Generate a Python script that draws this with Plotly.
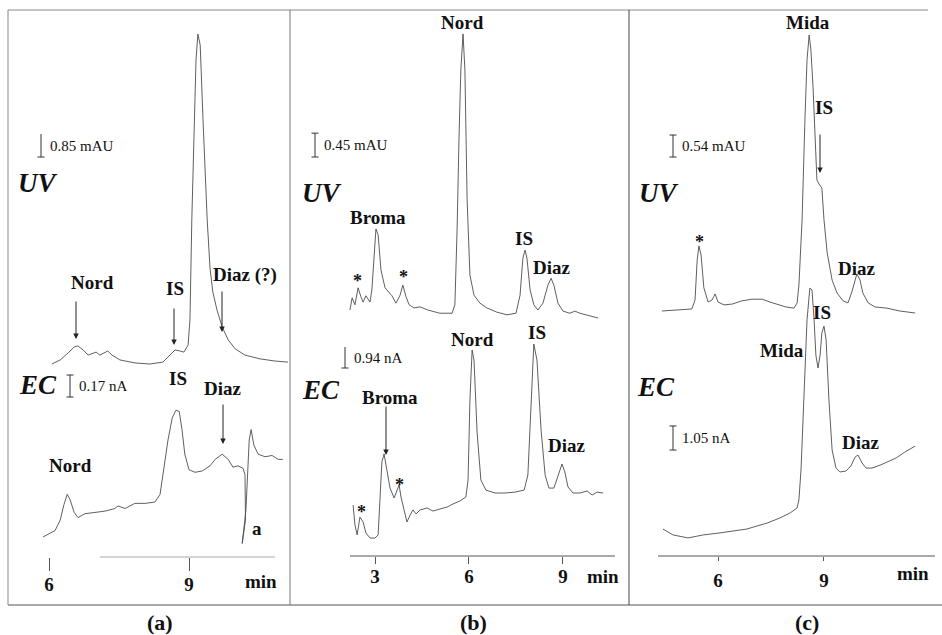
import plotly.graph_objects as go

W, H = 942, 635
FONT = "Liberation Serif"
LINE = "#4d4d4d"

# ---------------- data ----------------
# (a) UV, mAU vs min
uv_a_t = [6.06, 6.24, 6.41, 6.54, 6.62, 6.73, 6.84, 6.92, 7.01, 7.09, 7.18, 7.26, 7.35, 7.52, 7.84,
          8.16, 8.44, 8.59, 8.70, 8.81, 8.89, 8.98, 9.02, 9.06, 9.11, 9.15, 9.19, 9.24, 9.30, 9.39,
          9.45, 9.51, 9.60, 9.71, 9.84, 9.99, 10.20, 10.52, 10.84, 11.12]
uv_a_mAU = [0.00, 0.15, 0.41, 0.63, 0.67, 0.52, 0.33, 0.37, 0.44, 0.33, 0.41, 0.48, 0.33, 0.15, 0.04,
            0.00, 0.07, 0.33, 0.52, 0.48, 0.44, 0.70, 1.63, 5.33, 9.04, 11.26, 12.22, 11.81, 9.04, 5.33,
            3.56, 2.67, 2.00, 1.37, 0.89, 0.56, 0.33, 0.19, 0.11, 0.07]
# (a) EC, nA vs min
ec_a_t = [5.87, 5.98, 6.13, 6.24, 6.32, 6.39, 6.45, 6.54, 6.62, 6.77, 6.99, 7.20, 7.41, 7.48, 7.63,
          7.84, 8.06, 8.27, 8.38, 8.46, 8.55, 8.64, 8.72, 8.79, 8.85, 8.91, 9.00, 9.13, 9.28, 9.45,
          9.56, 9.71, 9.84, 9.94, 10.05, 10.16, 10.20, 10.21, 10.14, 10.22, 10.29, 10.33, 10.39,
          10.48, 10.63, 10.78, 10.91, 11.01]
ec_a_nA = [0.00, 0.02, 0.05, 0.13, 0.25, 0.33, 0.29, 0.19, 0.15, 0.18, 0.19, 0.20, 0.22, 0.24, 0.22,
           0.26, 0.26, 0.27, 0.33, 0.52, 0.75, 0.92, 0.98, 0.97, 0.83, 0.64, 0.52, 0.50, 0.51, 0.55,
           0.60, 0.64, 0.60, 0.54, 0.55, 0.53, 0.48, 0.13, -0.05, 0.21, 0.75, 0.83, 0.71,
           0.64, 0.62, 0.63, 0.60, 0.60]

# (b) UV
uv_b_t = [2.20, 2.27, 2.36, 2.46, 2.55, 2.62, 2.71, 2.84, 2.90, 2.97, 3.03, 3.10, 3.19, 3.32, 3.45,
          3.54, 3.67, 3.80, 3.89, 3.99, 4.09, 4.24, 4.44, 4.69, 5.07, 5.46, 5.55, 5.62, 5.68, 5.74,
          5.81, 5.87, 5.94, 6.03, 6.16, 6.35, 6.57, 6.89, 7.21, 7.50, 7.63, 7.72, 7.79, 7.85, 7.95,
          8.07, 8.20, 8.36, 8.52, 8.62, 8.71, 8.84, 9.00, 9.22, 9.38, 9.54, 9.86, 10.12]
uv_b_mAU = [0.15, 0.38, 0.25, 0.57, 0.40, 0.30, 0.42, 0.30, 0.53, 1.28, 1.68, 1.57, 0.91, 0.57, 0.49,
            0.42, 0.28, 0.43, 0.62, 0.40, 0.25, 0.19, 0.21, 0.15, 0.09, 0.09, 0.25, 1.66, 3.36, 4.68,
            5.36, 4.68, 2.23, 0.81, 0.43, 0.28, 0.19, 0.11, 0.06, 0.09, 0.43, 1.13, 1.28, 1.13, 0.53,
            0.25, 0.15, 0.28, 0.62, 0.75, 0.62, 0.28, 0.13, 0.09, 0.13, 0.09, 0.04, 0.00]
# (b) EC
ec_b_t = [2.30, 2.36, 2.43, 2.52, 2.62, 2.71, 2.84, 3.00, 3.10, 3.16, 3.22, 3.29, 3.38, 3.48, 3.61,
          3.70, 3.77, 3.83, 3.93, 4.02, 4.12, 4.21, 4.31, 4.44, 4.66, 4.85, 5.07, 5.30, 5.49, 5.71,
          5.90, 5.97, 6.03, 6.10, 6.16, 6.26, 6.38, 6.54, 6.83, 7.15, 7.47, 7.76, 7.88, 7.98, 8.07,
          8.17, 8.30, 8.43, 8.55, 8.71, 8.84, 8.97, 9.06, 9.16, 9.32, 9.54, 9.77, 9.93, 10.09, 10.28]
ec_b_nA = [-0.54, -1.43, -1.88, -1.08, -1.30, -1.79, -2.02, -2.02, -1.88, -0.31, 1.39, 1.75, 1.03, 0.22, -0.22,
           0.13, 0.36, -0.18, -0.85, -1.30, -0.99, -0.76, -0.94, -0.76, -0.67, -0.81, -0.72, -0.63, -0.49, -0.36,
           -0.18, 0.58, 4.17, 6.41, 5.96, 2.69, 0.58, 0.13, 0.00, 0.00, 0.04, 0.13, 0.81, 4.17, 6.68,
           5.96, 2.83, 0.81, 0.22, 0.22, 0.81, 1.30, 0.94, 0.27, 0.00, 0.00, 0.09, -0.09, 0.04, 0.00]

# (c) UV
uv_c_t = [4.41, 4.92, 5.26, 5.35, 5.41, 5.46, 5.52, 5.60, 5.72, 5.83, 5.92, 6.00, 6.17, 6.40, 6.68,
          6.96, 7.25, 7.47, 7.70, 7.92, 8.15, 8.24, 8.29, 8.38, 8.46, 8.52, 8.58, 8.63, 8.69, 8.75,
          8.80, 8.86, 8.94, 9.00, 9.09, 9.23, 9.37, 9.54, 9.68, 9.79, 9.93, 10.02, 10.10, 10.25, 10.44,
          10.78, 11.15, 11.58]
uv_c_mAU = [0.00, 0.02, 0.05, 0.27, 1.25, 1.60, 1.38, 0.57, 0.22, 0.27, 0.42, 0.22, 0.15, 0.17, 0.25,
            0.29, 0.29, 0.22, 0.15, 0.10, 0.07, 0.20, 0.64, 2.24, 4.69, 6.17, 6.78, 6.41, 5.50, 3.96,
            3.22, 3.12, 3.02, 2.24, 1.43, 0.76, 0.44, 0.25, 0.20, 0.47, 0.91, 0.76, 0.44, 0.20, 0.10,
            0.07, 0.00, -0.05]
# (c) EC
ec_c_t = [4.44, 4.73, 5.15, 5.58, 6.06, 6.48, 6.82, 7.10, 7.39, 7.75, 8.04, 8.24, 8.29, 8.35, 8.43,
          8.52, 8.60, 8.66, 8.72, 8.77, 8.83, 8.89, 8.94, 9.00, 9.06, 9.14, 9.23, 9.34, 9.45, 9.62,
          9.76, 9.88, 9.96, 10.08, 10.19, 10.36, 10.59, 10.81, 11.04, 11.29, 11.58]
ec_c_nA = [0.00, -0.26, -0.39, -0.26, -0.17, -0.09, 0.00, 0.13, 0.26, 0.48, 0.70, 0.92, 1.27, 2.58, 5.63,
           9.13, 10.52, 10.44, 9.13, 7.60, 7.03, 7.60, 8.56, 8.86, 8.25, 5.63, 3.45, 2.66, 2.49, 2.53,
           2.75, 3.14, 3.23, 2.88, 2.66, 2.66, 2.79, 2.93, 3.10, 3.36, 3.62]

tick_vals_a = [6, 9]
tick_vals_b = [3, 6, 9]
tick_vals_c = [6, 9]

# ---------------- layout geometry (pixels) ----------------
panels = [
    dict(name="a", xa="x", dom=(8, 290), x0=49, t0=6, ppm=46.67, axis_y=557, ticklen=13, standoff=-3,
         ticks=tick_vals_a),
    dict(name="b", xa="x2", dom=(290, 629), x0=375, t0=3, ppm=31.33, axis_y=556, ticklen=7, standoff=-4,
         ticks=tick_vals_b),
    dict(name="c", xa="x3", dom=(629, 942), x0=718, t0=6, ppm=35.33, axis_y=556, ticklen=4, standoff=3,
         ticks=tick_vals_c),
]
# each trace: panel index, y-axis id, data, baseline pixel, pixels per unit
traces = [
    (0, "y", uv_a_t, uv_a_mAU, 364, 27.0),
    (0, "y2", ec_a_t, ec_a_nA, 537, 129.4),
    (1, "y3", uv_b_t, uv_b_mAU, 318, 53.0),
    (1, "y4", ec_b_t, ec_b_nA, 493, 22.3),
    (2, "y5", uv_c_t, uv_c_mAU, 311, 40.7),
    (2, "y6", ec_c_t, ec_c_nA, 529, 22.9),
]
# scale bars: trace index, unit length, bar pixel x, bottom pixel y, label, caps
bars = [
    (0, 0.85, 41, 157, "0.85 mAU", (False, True)),
    (1, 0.17, 70, 397, "0.17 nA", (True, True)),
    (2, 0.45, 315, 157, "0.45 mAU", (True, True)),
    (3, 0.94, 345, 368, "0.94 nA", (False, True)),
    (4, 0.54, 673, 157, "0.54 mAU", (True, True)),
    (5, 1.05, 673, 450, "1.05 nA", (True, True)),
]

fig = go.Figure()
layout = dict(width=W, height=H, margin=dict(l=0, r=0, t=0, b=0, pad=0),
              paper_bgcolor="white", plot_bgcolor="rgba(0,0,0,0)", showlegend=False)


def t_of(p, xpx):
    return p["t0"] + (xpx - p["x0"]) / p["ppm"]


for i, p in enumerate(panels):
    key = "xaxis" if i == 0 else f"xaxis{i+1}"
    layout[key] = dict(
        domain=[p["dom"][0] / W, p["dom"][1] / W],
        range=[t_of(p, p["dom"][0]), t_of(p, p["dom"][1])],
        anchor="free", position=1 - p["axis_y"] / H,
        showline=False, showgrid=False, zeroline=False,
        ticks="outside", ticklen=p["ticklen"], tickwidth=1, tickcolor="#555",
        tickvals=p["ticks"], ticktext=[f"<b>{v}</b>" for v in p["ticks"]],
        ticklabelstandoff=p["standoff"],
        tickfont=dict(family=FONT, size=19, color="#111"),
    )

for j, (pi, ya, tt, vv, y0, k) in enumerate(traces):
    p = panels[pi]
    key = "yaxis" + ("" if ya == "y" else ya[1:])
    ax = dict(domain=[0, 1], range=[(y0 - H) / k, y0 / k], visible=False, anchor=p["xa"],
              showgrid=False, zeroline=False)
    if j % 2 == 1:
        ax["overlaying"] = traces[j - 1][1]
    layout[key] = ax
    fig.add_trace(go.Scatter(x=tt, y=vv, xaxis=p["xa"], yaxis=ya, mode="lines",
                             line=dict(color=LINE, width=0.9), hoverinfo="skip"))

shapes = []
annotations = []


def P(x, y):
    return x / W, 1 - y / H


def text(s, x, y, size=19, xanchor="center"):
    px, py = P(x, y)
    annotations.append(dict(text=s, x=px, y=py, xref="paper", yref="paper", showarrow=False,
                            xanchor=xanchor, yanchor="middle",
                            font=dict(family=FONT, size=size, color="#111")))


def arrow(x, y1, y2):
    px, py = P(x, y2)
    annotations.append(dict(text="", x=px, y=py, xref="paper", yref="paper", showarrow=True,
                            ax=0, ay=-(y2 - y1), axref="pixel", ayref="pixel",
                            arrowhead=2, arrowsize=1.1, arrowwidth=1, arrowcolor="#222"))


def pline(x1, y1, x2, y2, color="#666", width=1):
    a, b = P(x1, y1)
    c, d = P(x2, y2)
    shapes.append(dict(type="line", xref="paper", yref="paper", x0=a, y0=b, x1=c, y1=d,
                       line=dict(color=color, width=width)))


# frame
pline(8, 10, 928, 10, "#888")
pline(8, 605, 942, 605, "#555")
pline(8, 10, 8, 605, "#888")
pline(290, 10, 290, 605, "#777")
pline(629, 10, 629, 605, "#444")
# partial time axes
pline(100, 557, 275, 557, "#aaa")
pline(350, 556, 615, 556, "#555")
pline(658, 556, 935, 556, "#555")

# scale bars (drawn in data units of each trace)
for (ti, unit, bx, bottom, lab, caps) in bars:
    pi, ya, _, _, y0, k = traces[ti]
    p = panels[pi]
    tb = t_of(p, bx)
    vb = (y0 - bottom) / k
    dt = 3.5 / p["ppm"]
    shapes.append(dict(type="line", xref=p["xa"], yref=ya, x0=tb, x1=tb, y0=vb, y1=vb + unit,
                       line=dict(color="#333", width=1)))
    if caps[0]:
        shapes.append(dict(type="line", xref=p["xa"], yref=ya, x0=tb - dt, x1=tb + dt,
                           y0=vb + unit, y1=vb + unit, line=dict(color="#333", width=1)))
    if caps[1]:
        shapes.append(dict(type="line", xref=p["xa"], yref=ya, x0=tb - dt, x1=tb + dt,
                           y0=vb, y1=vb, line=dict(color="#333", width=1)))
    text(lab, bx + 7, bottom - unit * k / 2, size=15, xanchor="left")

# detector labels
for s, x, y in [("UV", 37, 183), ("EC", 38, 385), ("UV", 321, 193), ("EC", 321, 390),
                ("UV", 658, 193), ("EC", 656, 387)]:
    text(f"<b><i>{s}</i></b>", x, y, size=27)

# peak labels
labels = [
    ("Nord", 92, 282), ("IS", 175, 288), ("Diaz (?)", 245, 275), ("IS", 178, 378),
    ("Diaz", 223, 388), ("Nord", 70, 465), ("a", 257, 528),
    ("Nord", 462, 22), ("Broma", 378, 218), ("IS", 524, 238), ("Diaz", 552, 267),
    ("Nord", 472, 339), ("IS", 537, 332), ("Diaz", 567, 445), ("Broma", 390, 397),
    ("Mida", 808, 22), ("IS", 824, 107), ("Diaz", 857, 268), ("IS", 822, 313),
    ("Mida", 782, 350), ("Diaz", 861, 442),
]
for s, x, y in labels:
    text(f"<b>{s}</b>", x, y)
for x, y in [(357, 281), (403, 277), (399, 485), (361, 512), (699, 242)]:
    text("<b>*</b>", x, y, size=18)

arrow(76, 300, 339)
arrow(174, 307, 345)
arrow(222, 290, 332)
arrow(223, 403, 444)
arrow(386, 405, 455)
arrow(820, 133, 173)

# axis unit labels and panel captions
text("<b>min</b>", 261, 581)
text("<b>min</b>", 603, 576)
text("<b>min</b>", 913, 573)
text("<b>(a)</b>", 160, 622, size=22)
text("<b>(b)</b>", 473, 622, size=22)
text("<b>(c)</b>", 807, 622, size=22)

layout["shapes"] = shapes
layout["annotations"] = annotations
fig.update_layout(**layout)
fig.write_html("out.html")
